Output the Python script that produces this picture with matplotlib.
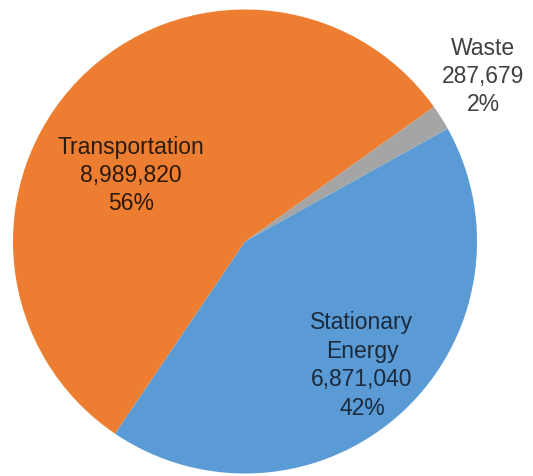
import matplotlib
matplotlib.use("Agg")
import matplotlib.pyplot as plt

categories = ["Waste", "Stationary\nEnergy", "Transportation"]
values = [287679, 6871040, 8989820]
percents = [2, 42, 56]
colors = ["#A5A5A5", "#5B9BD5", "#ED7D31"]

W, H = 533, 476
fig = plt.figure(figsize=(W / 100, H / 100), dpi=100)
ax = fig.add_axes([0, 0, 1, 1])

cx, cy, r = 245, 234.5, 232
wedges, _ = ax.pie(values, colors=colors, startangle=35.5, counterclock=False,
                   center=(cx, cy), radius=r, frame=True,
                   wedgeprops=dict(linewidth=0))
ax.set_xlim(0, W)
ax.set_ylim(0, H)
ax.set_aspect("equal")
ax.axis("off")

# label offsets from the pie centre (pixels)
offsets = [(238, 165), (117, -124), (-114, 66)]
text_colors = ["#404040", "#1b2a3d", "#2b1a0e"]
for cat, v, p, (dx, dy), tc in zip(categories, values, percents, offsets, text_colors):
    ax.text(cx + dx, cy + dy, f"{cat}\n{v:,}\n{p}%", ha="center", va="center",
            fontsize=16.5, family="Liberation Sans", color=tc, linespacing=1.3)

fig.savefig("out.png", dpi=100)
